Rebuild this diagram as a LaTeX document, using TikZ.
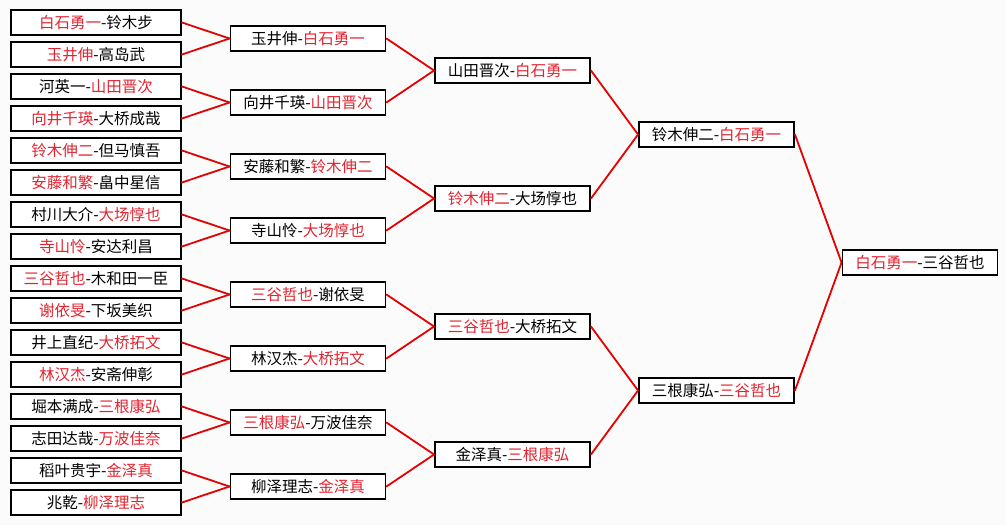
\documentclass[tikz,border=0pt]{standalone}
\usepackage{fontspec}
\newfontfamily\cjk{Noto Sans CJK SC}
\definecolor{brkWin}{RGB}{226,36,48}
\definecolor{brkLine}{RGB}{230,0,0}
\definecolor{brkBack}{RGB}{251,251,251}
\newcommand{\win}[1]{\textcolor{brkWin}{#1}}
\tikzset{
  matchbox/.style={draw=black, line width=1.9pt, fill=white, inner sep=0pt,
    minimum height=25, font=\cjk\fontsize{15.5}{18}\selectfont},
  wideA/.style={matchbox, minimum width=170},
  wideB/.style={matchbox, minimum width=155},
  brkline/.style={draw=brkLine, line width=1.8pt, line cap=round}
}
\begin{document}
\begin{tikzpicture}[x=1pt, y=-1pt]
% Bracket exported from game record, pixel units
\providecommand{\colA}{96}
\providecommand{\colB}{308}
\providecommand{\colC}{512.5}
\providecommand{\colD}{716.5}
\providecommand{\colE}{920}
% Background
\fill[brkBack] (0,0) rectangle (1006,525);
\useasboundingbox (0,0) rectangle (1006,525);
% First round
\begin{scope}[every node/.style={wideA}]
  \node (rA1)  at (\colA,22.5)  {\win{白石勇一}-铃木步};
  \node (rA2)  at (\colA,54.5)  {\win{玉井伸}-高岛武};
  \node (rA3)  at (\colA,86.5)  {河英一-\win{山田晋次}};
  \node (rA4)  at (\colA,118.5) {\win{向井千瑛}-大桥成哉};
  \node (rA5)  at (\colA,150.5) {\win{铃木伸二}-但马慎吾};
  \node (rA6)  at (\colA,182.5) {\win{安藤和繁}-畠中星信};
  \node (rA7)  at (\colA,214.5) {村川大介-\win{大场惇也}};
  \node (rA8)  at (\colA,246.5) {\win{寺山怜}-安达利昌};
  \node (rA9)  at (\colA,278.5) {\win{三谷哲也}-木和田一臣};
  \node (rA10) at (\colA,310.5) {\win{谢依旻}-下坂美织};
  \node (rA11) at (\colA,342.5) {井上直纪-\win{大桥拓文}};
  \node (rA12) at (\colA,374.5) {\win{林汉杰}-安斋伸彰};
  \node (rA13) at (\colA,406.5) {堀本满成-\win{三根康弘}};
  \node (rA14) at (\colA,438.5) {志田达哉-\win{万波佳奈}};
  \node (rA15) at (\colA,470.5) {稻叶贵宇-\win{金泽真}};
  \node (rA16) at (\colA,502.5) {兆乾-\win{柳泽理志}};
\end{scope}
% Second round
\begin{scope}[every node/.style={wideB}]
  \node (rB1) at (\colB,38.5)  {玉井伸-\win{白石勇一}};
  \node (rB2) at (\colB,102.5) {向井千瑛-\win{山田晋次}};
  \node (rB3) at (\colB,166.5) {安藤和繁-\win{铃木伸二}};
  \node (rB4) at (\colB,230.5) {寺山怜-\win{大场惇也}};
  \node (rB5) at (\colB,294.5) {\win{三谷哲也}-谢依旻};
  \node (rB6) at (\colB,358.5) {林汉杰-\win{大桥拓文}};
  \node (rB7) at (\colB,422.5) {\win{三根康弘}-万波佳奈};
  \node (rB8) at (\colB,486.5) {柳泽理志-\win{金泽真}};
\end{scope}
% Quarter finals
\begin{scope}[every node/.style={wideB}]
  \node (rC1) at (\colC,70.5)  {山田晋次-\win{白石勇一}};
  \node (rC2) at (\colC,198.5) {\win{铃木伸二}-大场惇也};
  \node (rC3) at (\colC,326.5) {\win{三谷哲也}-大桥拓文};
  \node (rC4) at (\colC,454.5) {金泽真-\win{三根康弘}};
\end{scope}
% Semi finals and final
\begin{scope}[every node/.style={wideB}]
  \node (rD1) at (\colD,134.5) {铃木伸二-\win{白石勇一}};
  \node (rD2) at (\colD,390.5) {三根康弘-\win{三谷哲也}};
  \node (fin) at (\colE,262.5) {\win{白石勇一}-三谷哲也};
\end{scope}
% Connectors
\begin{scope}[brkline]
  \draw (rA1.east)  -- (rB1.west);
  \draw (rA2.east)  -- (rB1.west);
  \draw (rA3.east)  -- (rB2.west);
  \draw (rA4.east)  -- (rB2.west);
  \draw (rA5.east)  -- (rB3.west);
  \draw (rA6.east)  -- (rB3.west);
  \draw (rA7.east)  -- (rB4.west);
  \draw (rA8.east)  -- (rB4.west);
  \draw (rA9.east)  -- (rB5.west);
  \draw (rA10.east) -- (rB5.west);
  \draw (rA11.east) -- (rB6.west);
  \draw (rA12.east) -- (rB6.west);
  \draw (rA13.east) -- (rB7.west);
  \draw (rA14.east) -- (rB7.west);
  \draw (rA15.east) -- (rB8.west);
  \draw (rA16.east) -- (rB8.west);
  \draw (rB1.east) -- (rC1.west);
  \draw (rB2.east) -- (rC1.west);
  \draw (rB3.east) -- (rC2.west);
  \draw (rB4.east) -- (rC2.west);
  \draw (rB5.east) -- (rC3.west);
  \draw (rB6.east) -- (rC3.west);
  \draw (rB7.east) -- (rC4.west);
  \draw (rB8.east) -- (rC4.west);
  \draw (rC1.east) -- (rD1.west);
  \draw (rC2.east) -- (rD1.west);
  \draw (rC3.east) -- (rD2.west);
  \draw (rC4.east) -- (rD2.west);
  \draw (rD1.east) -- (fin.west);
  \draw (rD2.east) -- (fin.west);
\end{scope}
\end{tikzpicture}
\end{document}
